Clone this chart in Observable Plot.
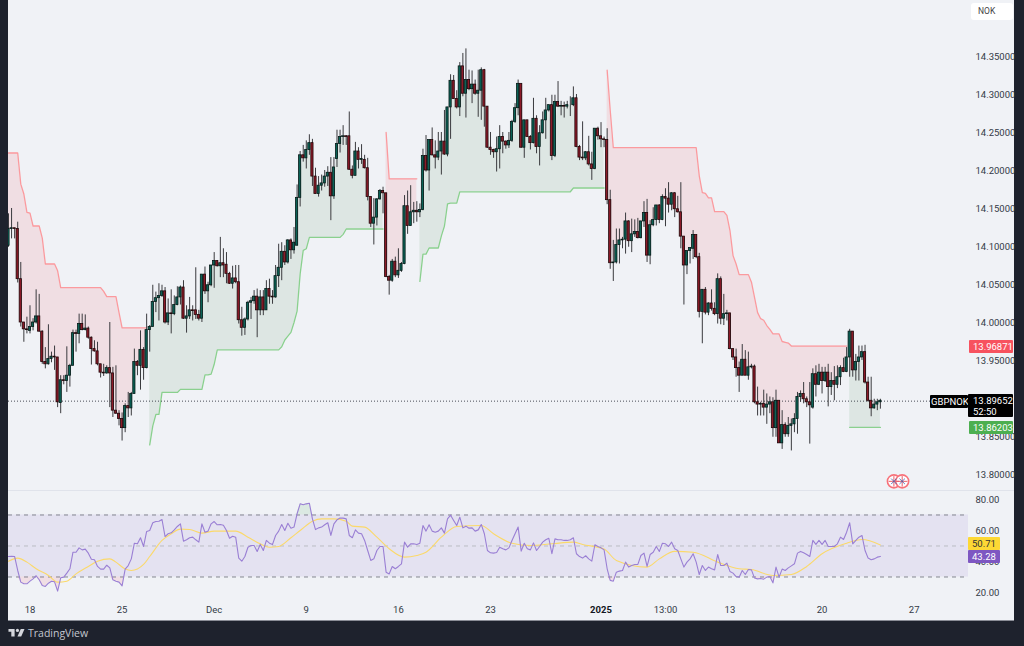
<!DOCTYPE html>
<html><head><meta charset="utf-8">
<script src="https://cdn.jsdelivr.net/npm/d3@7"></script>
<script src="https://cdn.jsdelivr.net/npm/@observablehq/plot@0.6"></script>
<style>
html,body{margin:0;padding:0;background:#1e222d;width:1024px;height:646px;overflow:hidden;font-family:Roboto,sans-serif}
#panel{position:absolute;left:8px;top:0;width:1006px;height:620px;background:#f0f2f6;border-bottom:1px solid #8a8d96}
#main,#rsi{position:absolute;left:0;width:1006px}
#main{top:0}#rsi{top:491px}
#sep{position:absolute;left:0;top:490px;width:1006px;height:1px;background:#e0e3eb}
.tag{position:absolute;font-size:9.5px;line-height:11.5px;padding-top:1px;box-sizing:border-box;padding-left:4px;text-align:left;border-radius:1px;white-space:nowrap}
#nok{position:absolute;left:963px;top:3px;width:42px;height:17px;background:#fff;border-radius:3px;font-size:8.5px;line-height:17px;color:#444;text-indent:7px}
#brand{position:absolute;left:8px;top:626px;height:14px;display:flex;align-items:center;gap:3px;color:#c4c7cf;font-size:10.5px;font-family:"Open Sans",sans-serif}
svg{display:block}
</style></head><body>
<div id="panel"><div id="main"></div><div id="sep"></div><div id="rsi"></div><div id="nok">NOK</div></div>
<div id="brand"><svg width="17" height="12" viewBox="0 0 36 25"><path fill="#d4d6dc" d="M14 4H1v6h6v10h7z"/><circle fill="#d4d6dc" cx="20" cy="7" r="3.4"/><path fill="#d4d6dc" d="M28 20h-8l7-16h8z"/></svg><span>TradingView</span></div>
<script>
const opens=[14.101,14.123,14.124,14.123,14.057,14.000,13.991,13.989,13.994,14.000,
14.008,13.988,13.948,13.945,13.952,13.955,13.954,13.894,13.924,13.923,
13.930,13.943,13.986,13.985,13.998,13.990,13.992,13.980,13.965,13.962,
13.945,13.934,13.933,13.940,13.933,13.884,13.880,13.873,13.861,13.890,
13.887,13.906,13.948,13.943,13.964,13.940,13.990,13.994,14.027,14.032,
14.035,14.041,14.000,14.012,14.011,14.023,14.033,14.046,14.005,14.008,
14.016,14.016,14.010,14.005,14.063,14.041,14.049,14.075,14.081,14.074,
14.078,14.076,14.064,14.051,14.058,14.053,
14.003,13.993,14.004,14.026,14.028,14.034,14.016,14.033,14.016,14.044,
14.034,14.033,14.061,14.072,14.093,14.079,14.108,14.095,14.101,14.164,
14.220,14.216,14.227,14.236,14.192,14.169,14.180,14.183,14.192,14.197,
14.166,14.215,14.235,14.244,14.245,14.245,14.201,14.193,14.225,14.214,
14.214,14.203,14.165,14.130,14.138,14.162,14.173,14.170,14.060,14.055,
14.080,14.062,14.068,14.077,14.153,14.127,14.145,14.147,14.145,14.148,
14.219,14.200,14.240,14.220,14.217,14.225,14.238,14.221,14.283,14.318,
14.294,14.283,14.337,14.301,14.319,14.307,14.313,14.301,
14.305,14.332,14.284,14.230,14.227,14.224,14.228,14.244,14.238,14.233,
14.239,14.264,14.282,14.314,14.230,14.266,14.244,14.236,14.268,14.231,
14.249,14.266,14.279,14.286,14.219,14.290,14.284,14.285,14.284,14.286,
14.286,14.295,14.231,14.217,14.216,14.224,14.208,14.202,14.255,14.245,
14.241,14.240,14.161,14.078,14.079,14.102,14.108,14.109,14.133,14.107,
14.116,14.119,14.111,14.133,14.144,14.088,14.128,14.135,14.154,14.135,
14.165,14.163,14.155,14.170,14.149,14.145,14.113,14.075,14.094,14.097,
14.115,14.086,14.014,14.043,14.013,14.025,14.018,14.011,
14.057,14.005,14.011,14.012,13.965,13.954,13.940,13.930,13.951,13.930,
13.941,13.942,13.895,13.892,13.893,13.888,13.892,13.895,13.861,13.897,
13.841,13.865,13.853,13.864,13.866,13.873,13.902,13.906,13.899,13.895,
13.888,13.932,13.918,13.934,13.923,13.934,13.915,13.923,13.918,13.928,
13.940,13.935,13.954,13.988,13.937,13.948,13.954,13.961,13.921,13.897,
13.887,13.892,13.895];
const highs=[14.143,14.150,14.124,14.132,14.079,14.000,14.007,14.022,14.005,14.043,
14.037,13.989,13.967,13.997,13.961,13.969,13.954,13.930,13.930,13.968,
13.945,13.990,13.990,14.011,14.011,14.010,13.994,13.981,13.976,13.974,
13.945,13.945,13.943,14.000,13.941,13.943,13.884,13.881,13.893,13.908,
13.908,13.965,13.950,13.989,13.967,14.011,13.996,14.049,14.040,14.051,
14.049,14.046,14.031,14.043,14.035,14.047,14.048,14.055,14.022,14.033,
14.022,14.072,14.016,14.063,14.073,14.053,14.075,14.092,14.081,14.112,
14.097,14.092,14.066,14.074,14.075,14.075,
14.020,14.006,14.028,14.033,14.042,14.044,14.042,14.042,14.055,14.057,
14.042,14.075,14.103,14.105,14.101,14.109,14.110,14.125,14.181,14.225,
14.233,14.239,14.247,14.241,14.203,14.192,14.194,14.200,14.205,14.217,
14.217,14.253,14.253,14.259,14.246,14.277,14.206,14.237,14.230,14.234,
14.220,14.216,14.165,14.163,14.163,14.175,14.178,14.170,14.062,14.083,
14.086,14.097,14.079,14.167,14.173,14.180,14.158,14.159,14.156,14.228,
14.246,14.240,14.256,14.239,14.250,14.250,14.279,14.283,14.326,14.325,
14.305,14.342,14.354,14.360,14.332,14.331,14.319,14.332,
14.335,14.333,14.284,14.250,14.228,14.244,14.259,14.250,14.239,14.250,
14.266,14.288,14.319,14.314,14.266,14.266,14.246,14.295,14.272,14.259,
14.277,14.295,14.286,14.299,14.299,14.317,14.291,14.290,14.291,14.297,
14.310,14.300,14.233,14.264,14.225,14.245,14.224,14.255,14.257,14.263,
14.244,14.255,14.174,14.108,14.123,14.123,14.112,14.144,14.134,14.136,
14.135,14.137,14.133,14.159,14.162,14.134,14.151,14.154,14.155,14.168,
14.176,14.184,14.171,14.171,14.166,14.184,14.113,14.094,14.098,14.121,
14.115,14.091,14.043,14.046,14.026,14.043,14.026,14.064,
14.060,14.037,14.016,14.012,13.965,13.965,13.948,13.971,13.963,13.961,
13.945,13.944,13.915,13.895,13.911,13.906,13.902,13.901,13.911,13.897,
13.884,13.868,13.875,13.873,13.880,13.908,13.910,13.921,13.902,13.921,
13.939,13.943,13.945,13.941,13.941,13.945,13.934,13.942,13.943,13.943,
13.953,13.967,13.991,13.988,13.958,13.969,13.969,13.970,13.928,13.928,
13.899,13.899,13.899];
const lows=[14.099,14.110,14.110,14.052,13.994,13.974,13.985,13.985,13.989,13.998,
13.987,13.945,13.939,13.944,13.947,13.937,13.888,13.880,13.918,13.908,
13.915,13.943,13.961,13.972,13.989,13.989,13.978,13.944,13.961,13.943,
13.927,13.929,13.932,13.888,13.875,13.879,13.864,13.844,13.855,13.875,
13.877,13.906,13.930,13.911,13.924,13.939,13.961,13.994,14.013,14.002,
14.033,13.998,13.996,13.985,14.009,14.022,14.023,14.004,13.986,14.004,
14.002,14.004,14.002,14.000,14.037,14.026,14.047,14.045,14.073,14.059,
14.059,14.051,14.050,14.044,14.051,13.998,
13.982,13.983,14.002,14.004,14.024,13.980,14.009,14.009,14.016,14.024,
14.024,14.032,14.046,14.055,14.075,14.077,14.083,14.090,14.101,14.152,
14.211,14.202,14.220,14.179,14.169,14.165,14.173,14.178,14.179,14.134,
14.162,14.204,14.223,14.233,14.233,14.200,14.189,14.193,14.202,14.208,
14.202,14.160,14.125,14.102,14.127,14.161,14.143,14.059,14.036,14.053,
14.059,14.058,14.066,14.076,14.116,14.127,14.130,14.132,14.138,14.147,
14.198,14.173,14.219,14.202,14.213,14.194,14.220,14.218,14.241,14.294,
14.281,14.271,14.297,14.269,14.305,14.288,14.299,14.270,
14.266,14.257,14.229,14.220,14.216,14.198,14.202,14.222,14.228,14.229,
14.237,14.262,14.272,14.229,14.216,14.244,14.227,14.235,14.222,14.206,
14.248,14.241,14.277,14.213,14.217,14.283,14.272,14.269,14.281,14.271,
14.284,14.230,14.213,14.213,14.213,14.206,14.187,14.201,14.240,14.230,
14.230,14.155,14.070,14.054,14.077,14.077,14.097,14.090,14.099,14.092,
14.112,14.110,14.110,14.125,14.079,14.076,14.126,14.127,14.130,14.134,
14.126,14.144,14.147,14.138,14.144,14.097,14.023,14.063,14.077,14.083,
14.084,14.006,13.972,14.010,14.009,14.015,14.009,13.998,
13.997,13.996,14.002,13.964,13.950,13.928,13.908,13.930,13.930,13.924,
13.939,13.893,13.877,13.877,13.877,13.866,13.880,13.849,13.849,13.841,
13.833,13.849,13.849,13.831,13.855,13.853,13.895,13.893,13.888,13.840,
13.886,13.902,13.917,13.906,13.921,13.889,13.904,13.897,13.913,13.917,
13.934,13.934,13.928,13.928,13.923,13.923,13.950,13.919,13.895,13.876,
13.886,13.884,13.886];
const closes=[14.123,14.124,14.123,14.057,14.000,13.991,13.990,13.994,14.000,14.008,
13.988,13.948,13.945,13.952,13.955,13.954,13.895,13.924,13.923,13.930,
13.943,13.986,13.985,13.998,13.990,13.992,13.980,13.965,13.962,13.945,
13.934,13.933,13.940,13.933,13.884,13.880,13.873,13.861,13.890,13.887,
13.906,13.948,13.943,13.964,13.940,13.990,13.994,14.027,14.032,14.035,
14.041,14.000,14.012,14.011,14.023,14.033,14.046,14.005,14.008,14.016,
14.015,14.010,14.005,14.063,14.041,14.049,14.075,14.081,14.074,14.078,
14.075,14.064,14.051,14.058,14.053,14.003,
13.993,14.004,14.026,14.028,14.034,14.016,14.033,14.016,14.044,14.034,
14.033,14.061,14.072,14.093,14.079,14.108,14.095,14.105,14.164,14.220,
14.216,14.227,14.236,14.192,14.169,14.180,14.183,14.192,14.197,14.166,
14.204,14.235,14.244,14.245,14.244,14.201,14.193,14.225,14.214,14.215,
14.203,14.165,14.130,14.138,14.162,14.173,14.170,14.060,14.055,14.080,
14.062,14.068,14.077,14.153,14.127,14.145,14.147,14.145,14.148,14.219,
14.200,14.240,14.220,14.217,14.225,14.238,14.221,14.283,14.318,14.294,
14.283,14.337,14.301,14.319,14.307,14.313,14.301,14.305,
14.332,14.284,14.230,14.227,14.224,14.228,14.244,14.238,14.233,14.239,
14.264,14.282,14.314,14.230,14.266,14.244,14.236,14.268,14.231,14.249,
14.266,14.279,14.286,14.219,14.290,14.284,14.285,14.284,14.286,14.286,
14.295,14.231,14.217,14.216,14.224,14.208,14.202,14.255,14.245,14.241,
14.240,14.161,14.078,14.079,14.102,14.108,14.109,14.133,14.107,14.116,
14.119,14.111,14.133,14.144,14.088,14.128,14.135,14.154,14.135,14.165,
14.163,14.155,14.170,14.149,14.145,14.113,14.075,14.094,14.098,14.115,
14.086,14.014,14.043,14.013,14.025,14.018,14.011,14.057,
14.005,14.011,14.012,13.965,13.954,13.940,13.930,13.951,13.930,13.941,
13.942,13.895,13.892,13.893,13.888,13.892,13.895,13.861,13.897,13.841,
13.865,13.853,13.864,13.866,13.873,13.902,13.906,13.899,13.895,13.891,
13.932,13.918,13.934,13.923,13.934,13.915,13.923,13.918,13.928,13.940,
13.935,13.954,13.988,13.937,13.948,13.954,13.961,13.921,13.897,13.887,
13.892,13.895,13.897];
// trailing stop: level held for a run of bars
const trailLevels=[14.223,14.182,14.169,14.145,14.144,14.127,14.111,14.077,14.068,14.046,14.041,14.034,14.013,13.993,
13.839,13.864,13.879,13.908,13.912,13.931,13.932,13.945,13.964,13.968,13.977,13.982,13.987,14.000,14.015,14.064,14.095,14.097,14.112,14.116,14.123,
14.250,14.189,
14.054,14.090,14.098,14.114,14.127,14.156,14.157,14.172,14.177,
14.332,14.279,14.230,14.193,14.171,14.170,14.164,14.146,14.141,14.121,14.088,14.077,14.063,14.053,14.033,14.013,14.005,14.003,13.996,13.991,13.985,13.975,13.974,13.973,13.969,
13.862];
const trailRuns=[4,1,1,1,1,3,1,4,1,14,1,4,1,9,
1,1,2,6,8,2,1,1,21,1,1,1,1,1,1,1,1,1,11,1,13,
1,10,
1,2,4,1,1,1,3,37,11,
1,1,28,1,1,1,2,4,1,1,1,1,4,1,1,1,1,1,1,1,3,1,1,1,19,
11];
const segFirst=[0,46,123,134,195,274];
const segSide=["down","up","down","up","down","up"];
const rsiValues=[43.2,43.4,43.2,34.2,26.7,25.6,25.6,27.3,28.8,30.8,
28.2,24.5,23.9,26.0,27.3,26.9,20.9,29.5,29.9,32.5,
35.3,46.0,46.0,48.8,47.5,48.0,45.4,41.5,41.1,36.8,
35.1,35.1,37.6,35.9,28.2,27.3,26.7,24.3,35.1,37.4,
41.7,51.8,51.4,55.3,49.7,59.4,60.0,65.0,65.8,66.0,
67.1,56.1,57.9,58.5,60.4,62.6,64.3,53.1,54.0,55.3,
55.7,54.0,52.5,64.3,58.9,59.6,64.3,65.8,63.7,63.9,
63.4,60.0,55.0,56.3,55.7,42.2,40.2,43.2,49.2,50.3,
50.3,46.5,51.0,47.1,53.6,51.8,51.0,56.8,59.6,63.9,
60.0,64.7,61.5,62.2,70.8,77.2,76.6,77.2,77.6,67.5,
60.6,61.7,62.2,63.7,65.0,56.8,64.3,66.9,68.0,68.0,
67.5,56.8,55.3,60.4,58.3,57.9,53.6,47.1,40.7,41.7,
47.1,49.7,49.7,33.1,32.0,36.8,35.3,36.8,38.5,52.5,
49.2,51.4,51.4,51.0,51.8,63.2,59.6,63.7,59.6,58.9,
59.6,61.7,58.3,67.5,69.9,66.5,63.2,68.6,61.7,62.8,
61.5,61.7,59.6,60.4,63.9,57.9,47.1,45.6,45.4,45.8,
49.2,48.2,47.5,48.8,53.6,57.9,62.2,46.7,51.8,48.2,
47.5,52.0,47.1,49.7,52.5,54.0,55.0,45.0,54.6,54.0,
54.0,53.6,53.6,54.0,55.3,45.0,43.2,42.2,43.7,41.7,
40.2,50.8,49.7,48.8,47.5,35.3,27.8,27.3,33.1,33.8,
34.2,39.6,36.4,37.4,38.1,38.1,43.9,45.4,36.8,44.5,
46.0,49.7,46.5,51.8,51.4,49.7,52.5,48.2,47.1,41.7,
36.4,39.6,41.7,45.0,39.6,31.6,37.4,34.2,36.4,35.3,
34.6,44.5,37.4,37.4,38.9,33.6,32.5,30.3,29.9,34.2,
31.6,34.8,34.6,29.3,28.8,29.0,28.6,29.9,30.3,26.2,
36.4,29.9,35.1,34.2,35.9,37.2,38.5,45.4,46.5,45.6,
44.5,43.2,53.6,51.0,53.6,51.0,53.6,49.7,49.7,49.7,
51.4,55.7,54.2,58.9,65.0,51.4,53.6,55.7,56.8,47.1,
42.2,41.1,41.7,42.8,43.28];
const maBars=[0,3,6,9,13,16,19,22,26,29,33,35,38,40,44,46,50,53,56,59,63,67,74,78,82,85,88,92,95,99,102,106,110,112,116,120,124,129,133,136,141,146,154,158,164,170,177,184,187,194,198,208,212,217,223,231,238,242,249,255,260,265,273,278,284];
const maValues=[40.2,42.2,39.6,35.3,31.0,26.7,27.3,32.0,36.8,40.2,41.7,39.6,35.1,34.2,38.1,43.2,53.6,57.9,60.9,60.6,58.3,59.6,59.6,55.7,51.4,49.2,49.7,55.3,60.0,66.0,67.5,67.5,66.0,62.8,62.2,55.7,48.2,42.8,43.9,46.0,55.7,62.6,63.2,57.9,51.8,50.3,51.4,52.5,51.0,48.0,40.7,36.4,41.7,46.5,46.0,39.6,35.3,34.8,31.0,31.6,36.8,45.0,51.8,54.2,50.71];
const priceTicks=[14.35,14.30,14.25,14.20,14.15,14.10,14.05,14.00,13.95,13.85,13.80];
const rsiTicks=[80,60,40,20];
const dateBars=[7,37,67,97,127,157,214,235,265,295];
const dateLabels=["18","25","Dec","9","16","23","13:00","13","20","27"];
const yearBars=[193];
const yearLabels=["2025"];
const lastPrice=13.89652,upperTag=13.96871,lowerTag=13.86203,rsiTag=43.28,maTag=50.71;
const eventBars=[288.4,291.1],eventPrice=13.791;

const xMax=312.7;
const trail=trailLevels.flatMap((v,k)=>Array(trailRuns[k]).fill(v));
const bars=opens.map((o,i)=>{
  let s=0;for(let k=0;k<segFirst.length;k++)if(i>=segFirst[k])s=k;
  return {i,open:o,high:highs[i],low:lows[i],close:closes[i],trail:trail[i],seg:s,side:segSide[s],mid:(o+closes[i])/2};
});
const upBars=bars.filter(d=>d.side==="up"),dnBars=bars.filter(d=>d.side==="down");
const GREEN="#4caf50",RED="#f7525f";
const xScale={domain:[0,xMax],axis:null};
const base={width:1006,marginLeft:0,marginRight:46,marginTop:0,
  style:{background:"transparent",fontFamily:"Roboto,sans-serif",fontSize:"9.5px",color:"#2a2e39",overflow:"visible"}};

const main=Plot.plot({...base,height:490,marginBottom:0,x:xScale,
  y:{domain:[13.77895,14.42368],axis:null},
  marks:[
    Plot.axisY(priceTicks,{anchor:"right",tickSize:0,tickPadding:7,tickFormat:d3.format(".5f"),label:null,fill:"#333a46"}),
    Plot.areaY(dnBars,{x:"i",y1:"trail",y2:"mid",z:"seg",fill:"#ee6a72",fillOpacity:0.14,clip:true}),
    Plot.areaY(upBars,{x:"i",y1:"trail",y2:"mid",z:"seg",fill:"#5d9a66",fillOpacity:0.13,clip:true}),
    Plot.line(dnBars,{x:"i",y:"trail",z:"seg",stroke:"#fb9a9e",strokeWidth:1.3,clip:true}),
    Plot.line(upBars,{x:"i",y:"trail",z:"seg",stroke:"#8ad08e",strokeWidth:1.3,clip:true}),
    Plot.ruleY([lastPrice],{x1:0,x2:xMax,stroke:"#1e222d",strokeWidth:0.8,strokeDasharray:"1,2"}),
    Plot.ruleX(bars,{x:"i",y1:"low",y2:"high",stroke:"#3a3a3e",strokeWidth:1,clip:true}),
    Plot.rect(bars.filter(d=>d.close>=d.open),{x1:d=>d.i-0.36,x2:d=>d.i+0.36,y1:"open",y2:"close",fill:"#0b6256",stroke:"#061a17",strokeWidth:0.8,clip:true}),
    Plot.rect(bars.filter(d=>d.close<d.open),{x1:d=>d.i-0.36,x2:d=>d.i+0.36,y1:"open",y2:"close",fill:"#8c1a28",stroke:"#1f0709",strokeWidth:0.8,clip:true}),
    Plot.dot(eventBars,{x:d=>d,y:()=>eventPrice,r:6.5,fill:"#fff",stroke:"#f7727a",strokeWidth:1.6}),
    Plot.dot(eventBars,{x:d=>d,y:()=>eventPrice,r:3.5,symbol:"plus",stroke:"#e8606a",strokeWidth:1}),
    Plot.dot(eventBars,{x:d=>d,y:()=>eventPrice,r:2.6,symbol:"times",stroke:"#3a5ab0",strokeWidth:0.8})
  ]});
document.getElementById("main").appendChild(main);

const rsiRows=rsiValues.map((r,i)=>({i,rsi:r}));
const maRows=maBars.map((b,k)=>({i:b,ma:maValues[k]}));
const rsiPlot=Plot.plot({...base,height:130,marginBottom:20,x:xScale,
  y:{domain:[14.19,85.16],axis:null},
  marks:[
    Plot.axisY(rsiTicks,{anchor:"right",tickSize:0,tickPadding:7,tickFormat:d3.format(".2f"),label:null,fill:"#333a46"}),
    Plot.axisX(dateBars,{tickSize:0,tickPadding:5,tickFormat:(d,k)=>dateLabels[dateBars.indexOf(d)],label:null,fill:"#333a46"}),
    Plot.axisX(yearBars,{tickSize:0,tickPadding:5,tickFormat:(d,k)=>yearLabels[0],label:null,fill:"#131722",fontWeight:"bold"}),
    Plot.rect([0],{x1:()=>0,x2:()=>xMax,y1:()=>30,y2:()=>70,fill:"#7e57c2",fillOpacity:0.1}),
    Plot.areaY(rsiRows,{x:"i",y1:()=>70,y2:d=>Math.max(d.rsi,70),fill:GREEN,fillOpacity:0.12,clip:true}),
    Plot.areaY(rsiRows,{x:"i",y1:()=>30,y2:d=>Math.min(d.rsi,30),fill:RED,fillOpacity:0.12,clip:true}),
    Plot.ruleY([70,30],{x1:0,x2:xMax,stroke:"#787b86",strokeWidth:0.9,strokeDasharray:"4,4"}),
    Plot.ruleY([50],{x1:0,x2:xMax,stroke:"#b6b8c0",strokeWidth:0.9,strokeDasharray:"4,4"}),
    Plot.line(maRows,{x:"i",y:"ma",stroke:"#fbd96a",strokeWidth:1.1,curve:"monotone-x",clip:true}),
    Plot.line(rsiRows,{x:"i",y:"rsi",stroke:"#9a7fd4",strokeWidth:1.1,clip:true})
  ]});
document.getElementById("rsi").appendChild(rsiPlot);

const panel=document.getElementById("panel");
function tag(html,top,left,width,h,bg,fg,pad){
  const t=document.createElement("div");t.className="tag";t.innerHTML=html;
  Object.assign(t.style,{top:top+"px",left:left+"px",width:width+"px",height:h+"px",background:bg,color:fg,paddingLeft:pad+"px"});
  panel.appendChild(t);
}
const yP=v=>main.scale("y").apply(v),yR=v=>491+rsiPlot.scale("y").apply(v);
tag("GBPNOK",yP(lastPrice)-6,922,38,13,"#000","#fff",1);
tag(lastPrice.toFixed(5)+"<br>52:50",yP(lastPrice)-7,960,45,23,"#000","#fff",5);
tag(upperTag.toFixed(5),yP(upperTag)-6,961,44,13,RED,"#fff",4);
tag(lowerTag.toFixed(5),yP(lowerTag)-6,961,44,13,GREEN,"#fff",4);
tag(maTag.toFixed(2),yR(maTag)-7,960,32,13,"#fdd835","#333",4);
tag(rsiTag.toFixed(2),yR(rsiTag)-6,960,32,13,"#7e57c2","#fff",4);
</script>
</body></html>
